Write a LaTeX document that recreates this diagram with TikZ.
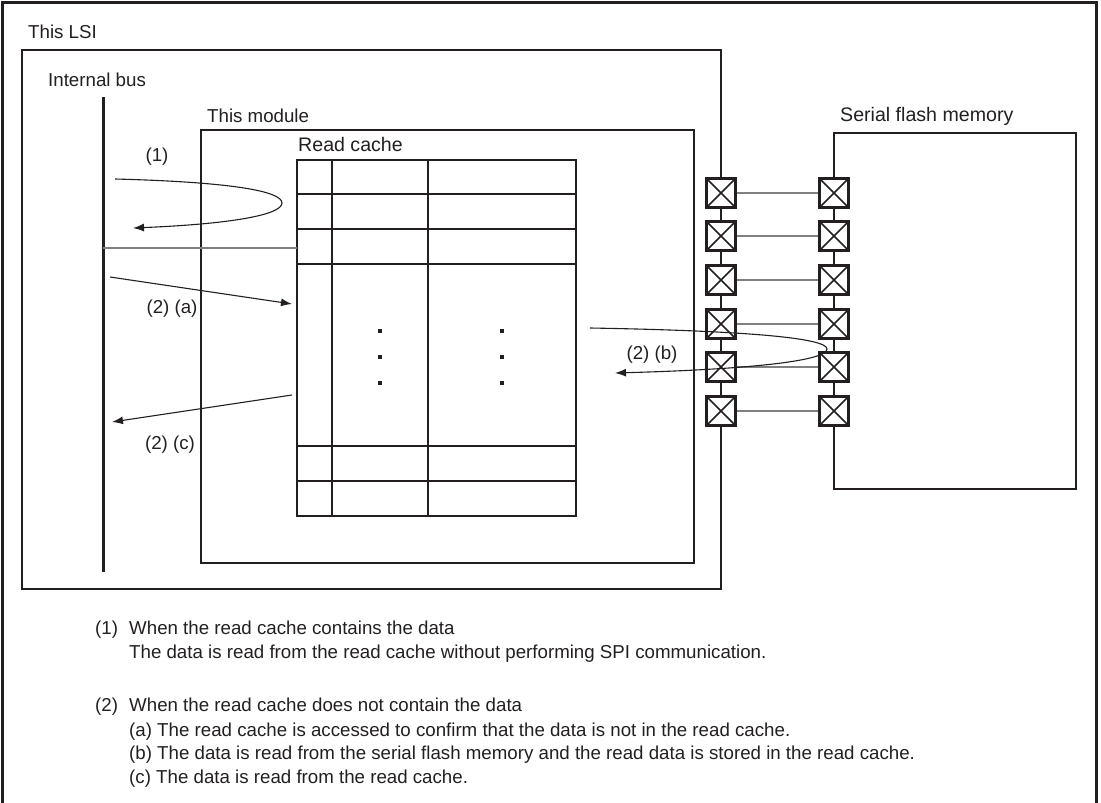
\documentclass[tikz,border=0pt]{standalone}
\usepackage{fontspec}
\setmainfont{Liberation Sans}
\usetikzlibrary{arrows.meta}
\definecolor{ink}{HTML}{231F20}
\definecolor{wire}{HTML}{808080}
\begin{document}
\begin{tikzpicture}[x=1pt,y=-1pt,
  txt/.style={font=\fontsize{18.7}{22}\selectfont, inner sep=0pt, text height=13.4pt, text depth=0pt, anchor=west, text=ink},
  bigtxt/.style={txt, font=\fontsize{19.6}{23}\selectfont},
  lbl/.style={txt, anchor=center},
  boxline/.style={draw=ink, line width=2pt},
  gridline/.style={draw=ink, line width=2.2pt},
  flow/.style={draw=ink, line width=1.1pt, -{Latex[length=11pt,width=8pt]}},
  flowcurve/.style={draw=ink, line width=1.1pt},
  pin/.style={draw=ink, line width=2.4pt, minimum size=29pt, inner sep=0pt, fill=white,
    path picture={\draw[ink, line width=1.6pt] (path picture bounding box.north west) -- (path picture bounding box.south east)
      (path picture bounding box.north east) -- (path picture bounding box.south west);}},
  pinwire/.style={draw=wire, line width=1.4pt},
  dotmark/.style={fill=ink, inner sep=0pt, minimum size=4pt}
]
\useasboundingbox (0,0) rectangle (1101,803);
% outer frame (open at bottom)
\draw[ink, line width=3pt] (2,803) -- (2,2) -- (1096,2) -- (1096,803);

% LSI box
\draw[boxline] (22,50) rectangle (721,589);
\node[txt] (lsilbl) at (28,32) {This LSI};

% internal bus
\coordinate (bustop) at (103,97);
\coordinate (busbot) at (103,572);
\draw[ink, line width=3pt] (bustop) -- (busbot);
\node[txt] (buslbl) at (48,80) {Internal bus};

% module box
\draw[boxline] (201,130) rectangle (694,563);
\node[txt] (modlbl) at (207,116) {This module};

% read cache table
\node[bigtxt] (rclbl) at (298,145) {Read cache};
\draw[gridline] (297,160) rectangle (576,516);
\foreach \yy in {194,229,264,446,481} \draw[gridline] (297,\yy) -- (576,\yy);
\foreach \xx in {332,428} \draw[gridline] (\xx,160) -- (\xx,516);
\foreach \yy [count=\i] in {331,357,383} {
  \node[dotmark] (dA\i) at (380,\yy) {};
  \node[dotmark] (dB\i) at (502,\yy) {};
}

% bus to cache connection
\coordinate (busrow) at (103,248);
\coordinate (cacherow) at (297,248);
\draw[pinwire, line width=1.2pt] (busrow) -- (cacherow);

% serial flash memory box
\draw[boxline] (834,133) rectangle (1076,489);
\node[bigtxt] (sflbl) at (840,115) {Serial flash memory};

% pins
\foreach \yy [count=\i] in {193,236,280,324,367,411} {
  \node[pin] (pL\i) at (721,\yy) {};
  \node[pin] (pR\i) at (834,\yy) {};
  \draw[pinwire] (pL\i.east) -- (pR\i.west);
}

% (1)
\coordinate (c1s) at (115,179);
\coordinate (c1t) at (282,203);
\coordinate (c1e) at (133,228);
\draw[flowcurve, -{Latex[length=11pt,width=8pt]}] (c1s) .. controls (230,182) and (282,191) .. (c1t)
  .. controls (282,215) and (230,224) .. (c1e);
\node[lbl] (l1) at (157,155) {(1)};

% (2)(a)
\coordinate (as) at (110,277);
\coordinate (ae) at (292,304);
\draw[flow] (as) -- (ae);
\node[lbl] (l2a) at (172,307) {(2) (a)};

% (2)(c)
\coordinate (cs) at (292,395);
\coordinate (ce) at (112,422);
\draw[flow] (cs) -- (ce);
\node[lbl] (l2c) at (170,443) {(2) (c)};

% (2)(b)
\coordinate (bs) at (590,328);
\coordinate (bt) at (827,349);
\coordinate (be) at (615,373);
\draw[flowcurve, -{Latex[length=11pt,width=8pt]}] (bs) .. controls (760,331) and (827,339) .. (bt)
  .. controls (827,360) and (760,369) .. (be);
\node[lbl] (l2b) at (652,353) {(2) (b)};

% notes
\node[txt] (n1) at (95,628) {(1)};
\node[txt] (n1a) at (129,628) {When the read cache contains the data};
\node[txt] (n1b) at (129,652) {The data is read from the read cache without performing SPI communication.};
\node[txt] (n2) at (95,705) {(2)};
\node[txt] (n2a) at (129,705) {When the read cache does not contain the data};
\node[txt] (n2b) at (129,730) {(a) The read cache is accessed to confirm that the data is not in the read cache.};
\node[txt] (n2c) at (129,753) {(b) The data is read from the serial flash memory and the read data is stored in the read cache.};
\node[txt] (n2d) at (129,777) {(c) The data is read from the read cache.};
\end{tikzpicture}
\end{document}
